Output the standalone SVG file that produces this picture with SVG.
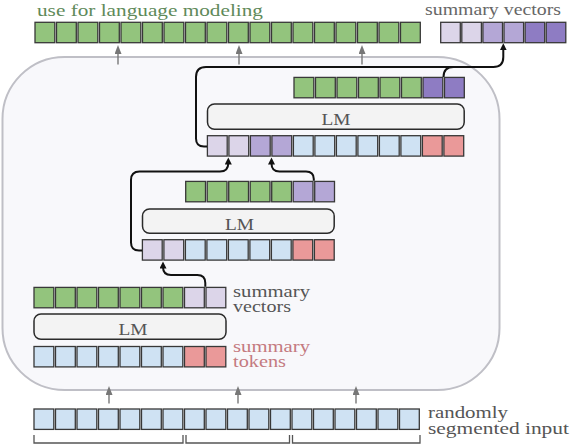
<svg xmlns="http://www.w3.org/2000/svg" width="570" height="444" viewBox="0 0 570 444">
<style>
.c{stroke:#383838;stroke-width:1.3}
.g{fill:#93c47d}.b{fill:#cfe2f3}.r{fill:#ea9999}
.p1{fill:#dcd5e9}.p2{fill:#b4a7d6}.p3{fill:#8e7cc3}
.lm{fill:#f3f3f3;stroke:#2a2a2a;stroke-width:1.5}
.lmt{font-family:"Liberation Serif",serif;font-size:17.5px;fill:#555;text-anchor:middle}
.t{font-family:"Liberation Serif",serif;font-size:17.5px}
.k{fill:none;stroke:#111;stroke-width:2}
.a{fill:none;stroke:#777;stroke-width:1.4}
.br{fill:none;stroke:#555;stroke-width:1.3}
</style>
<defs>
<marker id="ah" markerUnits="userSpaceOnUse" markerWidth="8" markerHeight="8" refX="3" refY="3.5" orient="auto" viewBox="0 0 8 8">
<path d="M0,0 L7,3.5 L0,7 Z" fill="#111"/>
</marker>
<marker id="ag" markerUnits="userSpaceOnUse" markerWidth="10" markerHeight="10" refX="2" refY="3.5" orient="auto" viewBox="0 0 10 10">
<path d="M0,0 L9,3.5 L0,7 Z" fill="#777"/>
</marker>
</defs>

<g id="container">
<rect x="2.5" y="57" width="497" height="333" rx="62" fill="#f8f8fb" stroke="#bfbfc6" stroke-width="2"/>
</g>

<g id="lm-output-row">
<text class="t" x="37" y="15.5" fill="#5f8a5a" textLength="226" lengthAdjust="spacingAndGlyphs">use for language modeling</text>
<g class="c g">
<rect x="35" y="22.3" width="19.8" height="20.4"/><rect x="56.5" y="22.3" width="19.8" height="20.4"/><rect x="78" y="22.3" width="19.8" height="20.4"/><rect x="99.5" y="22.3" width="19.8" height="20.4"/><rect x="121" y="22.3" width="19.8" height="20.4"/><rect x="142.5" y="22.3" width="19.8" height="20.4"/><rect x="164" y="22.3" width="19.8" height="20.4"/><rect x="185.5" y="22.3" width="19.8" height="20.4"/><rect x="207" y="22.3" width="19.8" height="20.4"/><rect x="228.5" y="22.3" width="19.8" height="20.4"/><rect x="250" y="22.3" width="19.8" height="20.4"/><rect x="271.5" y="22.3" width="19.8" height="20.4"/><rect x="293" y="22.3" width="19.8" height="20.4"/><rect x="314.5" y="22.3" width="19.8" height="20.4"/><rect x="336" y="22.3" width="19.8" height="20.4"/><rect x="357.5" y="22.3" width="19.8" height="20.4"/><rect x="379" y="22.3" width="19.8" height="20.4"/><rect x="400.5" y="22.3" width="19.8" height="20.4"/>
</g>
</g>

<g id="summary-vectors-out">
<text class="t" x="425" y="15" fill="#666" textLength="136" lengthAdjust="spacingAndGlyphs">summary vectors</text>
<g class="c">
<rect class="p1" x="440.7" y="22.3" width="19.6" height="20.4"/><rect class="p1" x="461.8" y="22.3" width="19.6" height="20.4"/><rect class="p2" x="482.9" y="22.3" width="19.6" height="20.4"/><rect class="p2" x="504" y="22.3" width="19.6" height="20.4"/><rect class="p3" x="525.1" y="22.3" width="19.6" height="20.4"/><rect class="p3" x="546.2" y="22.3" width="19.6" height="20.4"/>
</g>
</g>

<g id="stage3-output" class="c">
<rect class="g" x="294" y="77.4" width="19.8" height="20.4"/><rect class="g" x="315.5" y="77.4" width="19.8" height="20.4"/><rect class="g" x="337" y="77.4" width="19.8" height="20.4"/><rect class="g" x="358.5" y="77.4" width="19.8" height="20.4"/><rect class="g" x="380" y="77.4" width="19.8" height="20.4"/><rect class="g" x="401.5" y="77.4" width="19.8" height="20.4"/><rect class="p3" x="423" y="77.4" width="19.8" height="20.4"/><rect class="p3" x="444.5" y="77.4" width="19.8" height="20.4"/>
</g>
<g id="lm3">
<rect class="lm" x="207.5" y="104" width="256.7" height="25.3" rx="7"/>
<text class="lmt" x="336" y="124.5" textLength="29" lengthAdjust="spacingAndGlyphs">LM</text>
</g>
<g id="stage3-input" class="c">
<rect class="p1" x="207.4" y="135.7" width="19.8" height="20.4"/><rect class="p1" x="228.9" y="135.7" width="19.8" height="20.4"/><rect class="p2" x="250.4" y="135.7" width="19.8" height="20.4"/><rect class="p2" x="271.9" y="135.7" width="19.8" height="20.4"/><rect class="b" x="293.4" y="135.7" width="19.8" height="20.4"/><rect class="b" x="314.9" y="135.7" width="19.8" height="20.4"/><rect class="b" x="336.4" y="135.7" width="19.8" height="20.4"/><rect class="b" x="357.9" y="135.7" width="19.8" height="20.4"/><rect class="b" x="379.4" y="135.7" width="19.8" height="20.4"/><rect class="b" x="400.9" y="135.7" width="19.8" height="20.4"/><rect class="r" x="422.4" y="135.7" width="19.8" height="20.4"/><rect class="r" x="443.9" y="135.7" width="19.8" height="20.4"/>
</g>

<g id="stage2-output" class="c">
<rect class="g" x="185.7" y="181.4" width="19.8" height="20.4"/><rect class="g" x="207.2" y="181.4" width="19.8" height="20.4"/><rect class="g" x="228.7" y="181.4" width="19.8" height="20.4"/><rect class="g" x="250.2" y="181.4" width="19.8" height="20.4"/><rect class="g" x="271.7" y="181.4" width="19.8" height="20.4"/><rect class="p2" x="293.2" y="181.4" width="19.8" height="20.4"/><rect class="p2" x="314.7" y="181.4" width="19.8" height="20.4"/>
</g>
<g id="lm2">
<rect class="lm" x="142.5" y="209" width="191.7" height="24.3" rx="7"/>
<text class="lmt" x="239.5" y="229.5" textLength="29" lengthAdjust="spacingAndGlyphs">LM</text>
</g>
<g id="stage2-input" class="c">
<rect class="p1" x="142.4" y="239.7" width="19.8" height="20.4"/><rect class="p1" x="163.9" y="239.7" width="19.8" height="20.4"/><rect class="b" x="185.4" y="239.7" width="19.8" height="20.4"/><rect class="b" x="206.9" y="239.7" width="19.8" height="20.4"/><rect class="b" x="228.4" y="239.7" width="19.8" height="20.4"/><rect class="b" x="249.9" y="239.7" width="19.8" height="20.4"/><rect class="b" x="271.4" y="239.7" width="19.8" height="20.4"/><rect class="r" x="292.9" y="239.7" width="19.8" height="20.4"/><rect class="r" x="314.4" y="239.7" width="19.8" height="20.4"/>
</g>

<g id="stage1-output">
<g class="c">
<rect class="g" x="34" y="287.4" width="19.8" height="20.4"/><rect class="g" x="55.5" y="287.4" width="19.8" height="20.4"/><rect class="g" x="77" y="287.4" width="19.8" height="20.4"/><rect class="g" x="98.5" y="287.4" width="19.8" height="20.4"/><rect class="g" x="120" y="287.4" width="19.8" height="20.4"/><rect class="g" x="141.5" y="287.4" width="19.8" height="20.4"/><rect class="g" x="163" y="287.4" width="19.8" height="20.4"/><rect class="p1" x="184.5" y="287.4" width="19.8" height="20.4"/><rect class="p1" x="206" y="287.4" width="19.8" height="20.4"/>
</g>
<text class="t" fill="#555"><tspan x="233" y="296.5" textLength="77" lengthAdjust="spacingAndGlyphs">summary</tspan><tspan x="233" y="312" textLength="58" lengthAdjust="spacingAndGlyphs">vectors</tspan></text>
</g>
<g id="lm1">
<rect class="lm" x="34" y="314" width="192" height="25.3" rx="7"/>
<text class="lmt" x="133" y="334.5" textLength="29" lengthAdjust="spacingAndGlyphs">LM</text>
</g>
<g id="stage1-input">
<g class="c">
<rect class="b" x="34" y="346.5" width="19.8" height="20.4"/><rect class="b" x="55.5" y="346.5" width="19.8" height="20.4"/><rect class="b" x="77" y="346.5" width="19.8" height="20.4"/><rect class="b" x="98.5" y="346.5" width="19.8" height="20.4"/><rect class="b" x="120" y="346.5" width="19.8" height="20.4"/><rect class="b" x="141.5" y="346.5" width="19.8" height="20.4"/><rect class="b" x="163" y="346.5" width="19.8" height="20.4"/><rect class="r" x="184.5" y="346.5" width="19.8" height="20.4"/><rect class="r" x="206" y="346.5" width="19.8" height="20.4"/>
</g>
<text class="t" fill="#c47a80"><tspan x="233" y="351.5" textLength="77" lengthAdjust="spacingAndGlyphs">summary</tspan><tspan x="233" y="367" textLength="53" lengthAdjust="spacingAndGlyphs">tokens</tspan></text>
</g>

<g id="segmented-input">
<g class="c b">
<rect x="34" y="409" width="19.8" height="20.4"/><rect x="55.5" y="409" width="19.8" height="20.4"/><rect x="77" y="409" width="19.8" height="20.4"/><rect x="98.5" y="409" width="19.8" height="20.4"/><rect x="120" y="409" width="19.8" height="20.4"/><rect x="141.5" y="409" width="19.8" height="20.4"/><rect x="163" y="409" width="19.8" height="20.4"/><rect x="184.5" y="409" width="19.8" height="20.4"/><rect x="206" y="409" width="19.8" height="20.4"/><rect x="227.5" y="409" width="19.8" height="20.4"/><rect x="249" y="409" width="19.8" height="20.4"/><rect x="270.5" y="409" width="19.8" height="20.4"/><rect x="292" y="409" width="19.8" height="20.4"/><rect x="313.5" y="409" width="19.8" height="20.4"/><rect x="335" y="409" width="19.8" height="20.4"/><rect x="356.5" y="409" width="19.8" height="20.4"/><rect x="378" y="409" width="19.8" height="20.4"/><rect x="399.5" y="409" width="19.8" height="20.4"/>
</g>
<text class="t" fill="#555"><tspan x="428" y="418" textLength="80" lengthAdjust="spacingAndGlyphs">randomly</tspan><tspan x="428" y="434" textLength="141" lengthAdjust="spacingAndGlyphs">segmented input</tspan></text>
<path class="br" d="M34,435 V443 H183 V435 M186,435 V443 H289.5 V435 M292.5,435 V443 H420 V435"/>
</g>

<g id="connectors">
<path class="a" marker-end="url(#ag)" d="M118,64.5 V52"/>
<path class="a" marker-end="url(#ag)" d="M239,64.5 V52"/>
<path class="a" marker-end="url(#ag)" d="M362,64.5 V52"/>
<path class="a" marker-end="url(#ag)" d="M109,403.5 V393"/>
<path class="a" marker-end="url(#ag)" d="M238,403.5 V393"/>
<path class="a" marker-end="url(#ag)" d="M356,403.5 V393"/>
<path class="k" marker-end="url(#ah)" d="M205.3,286.7 V283 Q205.3,275 197.3,275 H171 Q163,275 163,267 V265.5"/>
<path class="k" marker-end="url(#ah)" d="M142,250.5 H139 Q131,250.5 131,242.5 V180 Q131,171.5 139.5,171.5 H220 Q228.3,171.5 228.3,163 V161.5"/>
<path class="k" marker-end="url(#ah)" d="M313.8,180.7 V179 Q313.8,171.5 306,171.5 H279.5 Q271.5,171.5 271.5,163.5 V161.5"/>
<path class="k" marker-end="url(#ah)" d="M207,146.5 H204 Q196,146.5 196,138.5 V77 Q196,67 206,67 H493.3 Q503.3,67 503.3,57 V47.3"/>
<path class="k" d="M443.5,77 Q443.5,67 453.5,67"/>
</g>
</svg>
